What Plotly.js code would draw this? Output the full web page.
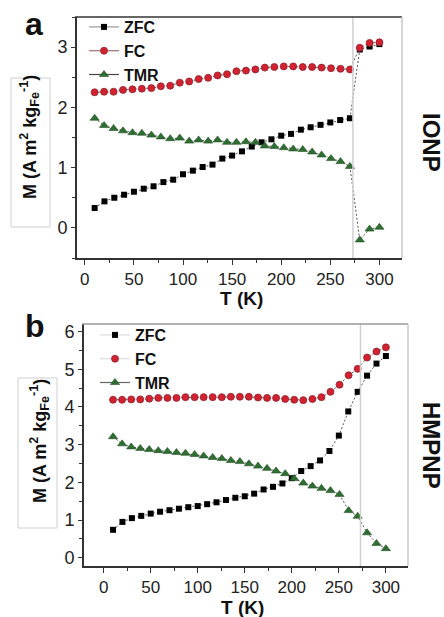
<!DOCTYPE html>
<html><head><meta charset="utf-8">
<script src="https://cdn.plot.ly/plotly-3.0.1.min.js"></script>
<style>html,body{margin:0;padding:0;background:#fff}#c{width:444px;height:617px}</style>
</head><body><div id="c"></div>
<script>
// Temperatures (K)
const tZFC = [10,20,30,40,50,60,70,80,90,100,110,120,130,140,150,160,170,180,190,200,210,220,230,240,250,260,270,280,290,300];
const tFC  = [10,19.6,29.3,38.9,48.5,58.1,67.8,77.4,87,96.7,106.3,115.9,125.6,135.2,144.8,154.4,164.1,173.7,183.3,193,202.6,212.2,221.9,231.5,241.1,250.7,260.4,270,280,290,300];

// Panel a: IONP
const zfcA = [0.33,0.44,0.50,0.55,0.60,0.65,0.69,0.76,0.80,0.89,0.95,1.01,1.05,1.15,1.20,1.27,1.35,1.42,1.47,1.53,1.56,1.63,1.67,1.71,1.75,1.79,1.82,2.96,3.01,3.05];
const fcA  = [2.25,2.26,2.26,2.29,2.30,2.31,2.32,2.35,2.36,2.41,2.43,2.47,2.49,2.53,2.55,2.60,2.61,2.63,2.66,2.67,2.68,2.68,2.67,2.67,2.66,2.65,2.64,2.63,2.99,3.07,3.08];
const tmrA = [1.82,1.70,1.65,1.61,1.58,1.57,1.54,1.51,1.48,1.49,1.44,1.46,1.44,1.46,1.42,1.42,1.43,1.42,1.36,1.35,1.33,1.31,1.30,1.26,1.21,1.15,1.10,1.02,-0.20,-0.02,0.01];

// Panel b: HMPNP
const zfcB = [0.74,0.95,1.05,1.11,1.17,1.22,1.26,1.30,1.34,1.37,1.42,1.47,1.53,1.59,1.63,1.70,1.81,1.88,1.97,2.11,2.30,2.43,2.58,2.83,3.24,3.88,4.40,4.83,5.15,5.35];
const fcB  = [4.19,4.19,4.20,4.20,4.22,4.24,4.24,4.24,4.26,4.26,4.26,4.26,4.26,4.27,4.27,4.27,4.25,4.24,4.24,4.21,4.19,4.18,4.21,4.26,4.40,4.59,4.84,5.01,5.31,5.47,5.58];
const tmrB = [3.21,3.02,2.94,2.90,2.87,2.84,2.82,2.79,2.77,2.74,2.70,2.66,2.63,2.58,2.55,2.49,2.43,2.37,2.30,2.23,2.10,1.98,1.90,1.84,1.78,1.68,1.25,1.10,0.66,0.38,0.24];

const seriesNames = ['ZFC','FC','TMR'];
const xTicks = [0,50,100,150,200,250,300];
const yTicksA = [0,1,2,3];
const yTicksB = [0,1,2,3,4,5,6];
const panelLabels = ['a','b'];
const sampleNames = ['IONP','HMPNP'];
const freezeT = 273;

const W=444,H=617;
const px = v=>v/W, py = v=>1-v/H;
const F = 'Liberation Sans, Arial, sans-serif';
const conn = {color:'#555', width:1, dash:'2px,2px'};
const mZ={symbol:'square',size:6,color:'#000'};
const mF={symbol:'circle',size:7,color:'#d4212f',line:{color:'#8a2530',width:0.8}};
const mT={symbol:'triangle-up',size:8,color:'#2f6e32',line:{color:'#234f25',width:0.6}};

function s(x,y,m,xa,ya){return {x:x,y:y,mode:'lines+markers',line:conn,marker:m,xaxis:xa,yaxis:ya,showlegend:false,hoverinfo:'skip'};}
function leg(name,m,lc,xa,ya,lg){return {x:[null],y:[null],mode:'lines+markers',name:'<b>'+name+'</b>',line:{color:lc,width:1.2},marker:m,xaxis:xa,yaxis:ya,legend:lg,showlegend:true};}

const data = [
  s(tZFC,zfcA,mZ,'x','y'), s(tFC,fcA,mF,'x','y'), s(tFC,tmrA,mT,'x','y'),
  s(tZFC,zfcB,mZ,'x2','y2'), s(tFC,fcB,mF,'x2','y2'), s(tFC,tmrB,mT,'x2','y2'),
  leg(seriesNames[0],mZ,'#999','x','y','legend'), leg(seriesNames[1],mF,'#a07070','x','y','legend'), leg(seriesNames[2],mT,'#444','x','y','legend'),
  leg(seriesNames[0],mZ,'#ddd','x2','y2','legend2'), leg(seriesNames[1],mF,'#ddd','x2','y2','legend2'), leg(seriesNames[2],mT,'#666','x2','y2','legend2')
];

function xax(dom,range,anchor){return {domain:dom,range:range,anchor:anchor,tickvals:xTicks,ticks:'outside',ticklen:5,tickwidth:1,tickcolor:'#333',
  showline:true,linecolor:'#333',linewidth:1.5,showgrid:false,zeroline:false,tickfont:{family:F,size:17,color:'#222'},
  minor:{dtick:25,tick0:0,ticks:'outside',ticklen:3,tickcolor:'#333',showgrid:false}};}
function yax(dom,range,pos,tv){return {domain:dom,range:range,anchor:'free',position:pos,tickvals:tv,ticks:'outside',ticklen:4,tickwidth:1,tickcolor:'#333',
  showline:true,linecolor:'#333',linewidth:1.5,showgrid:false,zeroline:false,tickfont:{family:F,size:18,color:'#222'},
  minor:{dtick:0.5,tick0:0,ticks:'outside',ticklen:3,tickcolor:'#333',showgrid:false}};}

const yTitle = '<b>M (A m<sup>2</sup> kg<sub>Fe</sub><sup>-1</sup>)</b>';
function ann(text,x,y,size,angle){return {text:text,xref:'paper',yref:'paper',x:px(x),y:py(y),xanchor:'center',yanchor:'middle',showarrow:false,textangle:angle||0,font:{family:F,size:size,color:'#111'}};}

const layout = {
  width:W,height:H,margin:{l:0,r:0,t:0,b:0},paper_bgcolor:'#fff',plot_bgcolor:'#fff',
  xaxis:xax([px(75),px(402)],[-10,323],'y'),
  yaxis:yax([py(258),py(17)],[-0.5,3.5],px(75),yTicksA),
  xaxis2:xax([px(82),px(408)],[-23,323.5],'y2'),
  yaxis2:yax([py(566),py(324)],[-0.22,6.2],px(82),yTicksB),
  legend:{x:px(84),y:py(10),xanchor:'left',yanchor:'top',bgcolor:'rgba(0,0,0,0)',font:{family:F,size:16,color:'#111'},itemwidth:30,tracegroupgap:0},
  legend2:{x:px(95),y:py(318),xanchor:'left',yanchor:'top',bgcolor:'rgba(0,0,0,0)',font:{family:F,size:16,color:'#111'},itemwidth:30,tracegroupgap:0},
  shapes:[
    {type:'line',xref:'x',yref:'y domain',x0:freezeT,x1:freezeT,y0:0,y1:1,line:{color:'#d0d0d0',width:1.5}},
    {type:'line',xref:'x2',yref:'y2 domain',x0:freezeT,x1:freezeT,y0:0,y1:1,line:{color:'#d0d0d0',width:1.5}},
    {type:'line',xref:'x domain',yref:'y domain',x0:0,x1:1,y0:1,y1:1,line:{color:'#333',width:1.5}},
    {type:'line',xref:'x domain',yref:'y domain',x0:1,x1:1,y0:0,y1:1,line:{color:'#c8c8c8',width:1.5}},
    {type:'line',xref:'x2 domain',yref:'y2 domain',x0:0,x1:1,y0:1,y1:1,line:{color:'#999',width:1.5}},
    {type:'line',xref:'x2 domain',yref:'y2 domain',x0:1,x1:1,y0:0,y1:1,line:{color:'#c8c8c8',width:1.5}},
    {type:'rect',xref:'paper',yref:'paper',x0:px(11),x1:px(50),y0:py(227),y1:py(78),line:{color:'#cfcfcf',width:1}},
    {type:'rect',xref:'paper',yref:'paper',x0:px(18),x1:px(57),y0:py(528),y1:py(378),line:{color:'#cfcfcf',width:1}}
  ],
  annotations:[
    ann('<b>'+panelLabels[0]+'</b>',34,24,32),
    ann('<b>'+panelLabels[1]+'</b>',35,326,32),
    ann('<b>'+sampleNames[0]+'</b>',431,142,24,90),
    ann('<b>'+sampleNames[1]+'</b>',431,445,24,90),
    ann(yTitle,30,137,18,-90),
    ann(yTitle,39,441,18,-90),
    ann('<b>T (K)</b>',241,299,19),
    ann('<b>T (K)</b>',243,607,19)
  ]
};
Plotly.newPlot('c',data,layout,{staticPlot:true,displayModeBar:false});
</script></body></html>
